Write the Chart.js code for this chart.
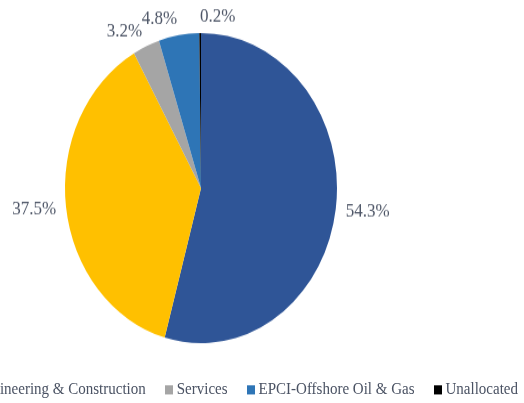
<!DOCTYPE html>
<html>
<head>
<meta charset="utf-8">
<script src="https://cdn.jsdelivr.net/npm/chart.js@4"></script>
<style>
  html, body { margin: 0; padding: 0; background: #fff; overflow: hidden; }
  #stage {
    position: absolute; left: 0; top: 0;
    width: 524px; height: 354px;
    transform: scaleY(1.14); transform-origin: 0 0;
  }
  #box { position: absolute; left: 0; top: 0; width: 524px; height: 330px; }
  #legend {
    position: absolute; right: 6px; top: 332px;
    white-space: nowrap; font: 15px "Liberation Serif", "Times New Roman", serif;
    color: #4a5263; line-height: 18px;
  }
  #legend span.item { margin-left: 19px; }
  #legend span.sw { display: inline-block; width: 8px; height: 8px; margin-right: 4px; }
</style>
</head>
<body>
<div id="stage">
  <div id="box"><canvas id="pie"></canvas></div>
  <div id="legend"></div>
</div>
<script>
"use strict";

// segment shares, in data order (clockwise from 12 o'clock)
const segments = ["Onshore Oil & Gas", "Engineering & Construction", "Services", "EPCI-Offshore Oil & Gas", "Unallocated"];
const shares = [54.3, 37.5, 3.2, 4.8, 0.2];
const colors = ["#2f5597", "#ffc000", "#a5a5a5", "#2e75b6", "#000000"];

// percent labels outside the pie, Excel style
const outsideLabels = {
    id: "outsideLabels",
    afterDatasetsDraw(chart) {
        const ctx = chart.ctx;
        const meta = chart.getDatasetMeta(0);
        ctx.save();
        ctx.font = "17px 'Liberation Serif', 'Times New Roman', serif";
        ctx.fillStyle = "#4d5566";
        ctx.textBaseline = "middle";
        meta.data.forEach(function _label(arc, i) {
            const mid = (arc.startAngle + arc.endAngle) / 2;
            const dx = Math.cos(mid), dy = Math.sin(mid);
            const r = arc.outerRadius + 10;
            const x = arc.x + dx * r;
            const y = arc.y + dy * r + dy * 4;
            ctx.textAlign = (dx > -0.05) ? "left" : "right";
            ctx.fillText(shares[i].toFixed(1) + "%", x, y);
        });
        ctx.restore();
    }
};

new Chart(document.getElementById("pie"), {
    type: "pie",
    data: {
        labels: segments,
        datasets: [{
            data: shares,
            backgroundColor: colors,
            borderWidth: 0
        }]
    },
    options: {
        responsive: true,
        maintainAspectRatio: false,
        animation: false,
        devicePixelRatio: 1,
        events: [],
        layout: { padding: { left: 65, right: 187, top: 29, bottom: 29 } },
        plugins: {
            legend: { display: false },
            tooltip: { enabled: false }
        }
    },
    plugins: [outsideLabels]
});

// legend below, wider than the page and cut at the left like the original
const legend = document.getElementById("legend");
segments.forEach(function _item(name, i) {
    const item = document.createElement("span");
    item.className = "item";
    const sw = document.createElement("span");
    sw.className = "sw";
    sw.style.background = colors[i];
    item.appendChild(sw);
    item.appendChild(document.createTextNode(name));
    legend.appendChild(item);
});
</script>
</body>
</html>
